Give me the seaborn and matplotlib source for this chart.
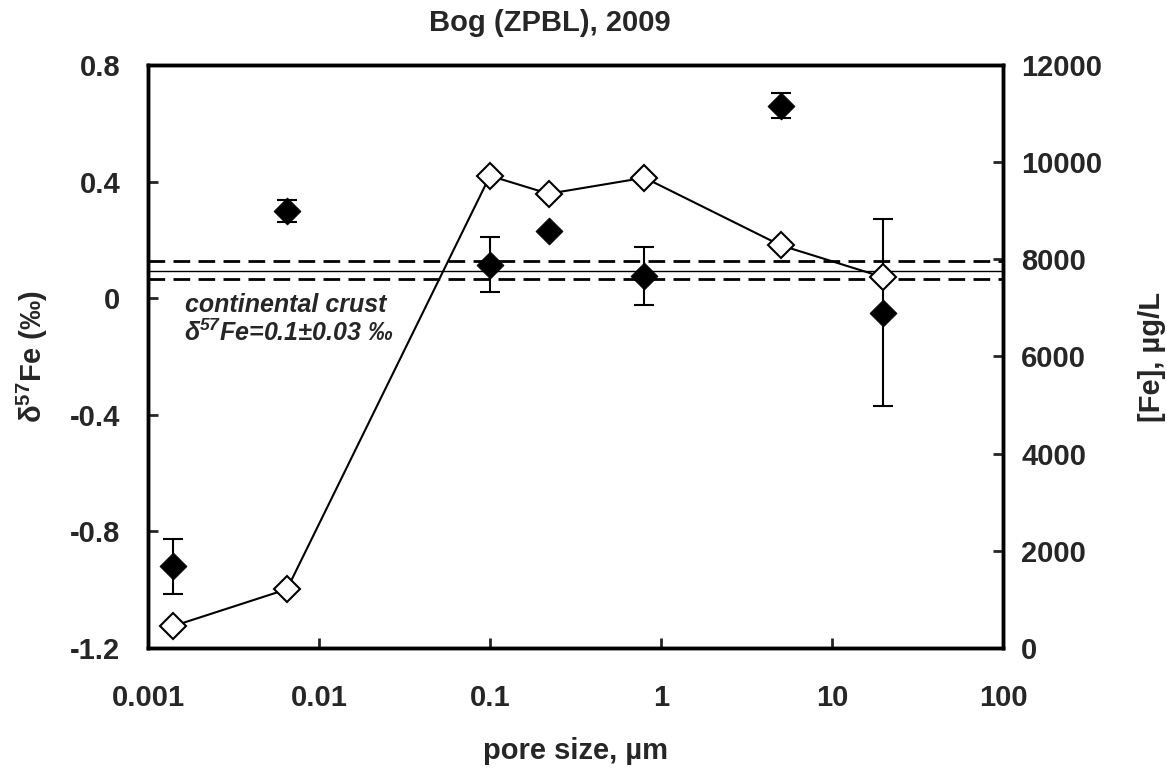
import numpy as np
import pandas as pd
import matplotlib
matplotlib.use('Agg')
import matplotlib.pyplot as plt
import seaborn as sns
from matplotlib.ticker import FixedLocator, FixedFormatter, NullLocator

# ── data ────────────────────────────────────────────────────
pore_size   = [0.0014, 0.0065, 0.1, 0.22, 0.8, 5, 20]          # µm
delta57     = [-0.92, 0.30, 0.115, 0.23, 0.075, 0.66, -0.05]   # ‰
delta57_err = [0.095, 0.037, 0.095, 0.0, 0.10, 0.043, 0.32]
fe_conc     = [450, 1210, 9720, 9350, 9680, 8290, 7630]        # µg/L

crust_mean = 0.092
crust_low, crust_high = 0.067, 0.128

x_ticks  = [0.001, 0.01, 0.1, 1, 10, 100]
x_labels = ['0.001', '0.01', '0.1', '1', '10', '100']
y1_ticks = [-1.2, -0.8, -0.4, 0, 0.4, 0.8]
y1_labels = ['-1.2', '-0.8', '-0.4', '0', '0.4', '0.8']
y2_ticks = [0, 2000, 4000, 6000, 8000, 10000, 12000]

df = pd.DataFrame({'pore': pore_size, 'd57': delta57,
                   'err': delta57_err, 'fe': fe_conc})

# ── style ───────────────────────────────────────────────────
sns.set_style('white')
plt.rcParams['font.family'] = ['Liberation Sans', 'DejaVu Sans']
plt.rcParams['mathtext.default'] = 'regular'
FS = 21

fig = plt.figure(figsize=(11.67, 7.73), dpi=100)
ax = fig.add_axes([148/1167, 1 - 648/773, (1003-148)/1167, (648-65)/773])
ax2 = ax.twinx()

# crust reference band
ax.axhline(crust_mean, color='black', lw=1.0, zorder=1)
ax.axhline(crust_low, color='black', lw=2.0, ls=(0, (6, 3)), zorder=1)
ax.axhline(crust_high, color='black', lw=2.0, ls=(0, (6, 3)), zorder=1)

# δ57Fe with error bars
ax.errorbar(df['pore'], df['d57'], yerr=df['err'], fmt='none',
            ecolor='black', elinewidth=1.5, capsize=7, capthick=1.5, zorder=2)
sns.scatterplot(data=df, x='pore', y='d57', marker='D', s=190,
                color='black', edgecolor='black', linewidth=0.5, ax=ax, zorder=3)

# [Fe] line
sns.lineplot(data=df, x='pore', y='fe', sort=False, estimator=None, ax=ax2,
             color='black', lw=1.5, marker='D', markersize=13,
             markerfacecolor='white', markeredgecolor='black', markeredgewidth=1.5)

# axes setup
ax.set_xscale('log')
ax.set_xlim(0.001, 100)
ax.set_ylim(-1.2, 0.8)
ax2.set_ylim(0, 12000)

ax.xaxis.set_major_locator(FixedLocator(x_ticks))
ax.xaxis.set_major_formatter(FixedFormatter(x_labels))
ax.xaxis.set_minor_locator(NullLocator())
ax.yaxis.set_major_locator(FixedLocator(y1_ticks))
ax.yaxis.set_major_formatter(FixedFormatter(y1_labels))
ax2.yaxis.set_major_locator(FixedLocator(y2_ticks))

for a in (ax, ax2):
    for sp in a.spines.values():
        sp.set_linewidth(2.5)
        sp.set_color('black')
ax.tick_params(axis='x', direction='in', length=7, width=2, pad=26,
               labelsize=FS, bottom=True, top=False)
ax.tick_params(axis='y', direction='in', length=7, width=2, pad=20,
               labelsize=FS, left=True, right=False)
ax2.tick_params(axis='y', direction='in', length=7, width=2, pad=13,
                labelsize=FS, right=True, left=False)
for lab in ax.get_xticklabels() + ax.get_yticklabels() + ax2.get_yticklabels():
    lab.set_fontweight('bold')

ax.set_xlabel('pore size, µm', fontsize=FS, fontweight='bold', labelpad=18)
ax.set_ylabel('δ$^{57}$Fe (‰)', fontsize=FS, fontweight='bold')
ax.yaxis.set_label_coords(-0.115, 0.5)
ax2.set_ylabel('[Fe], µg/L', fontsize=FS, fontweight='bold')
ax2.yaxis.set_label_coords(1.158, 0.5)

fig.text(550/1167, 1 - 23/773, 'Bog (ZPBL), 2009', ha='center', va='center',
         fontsize=FS, fontweight='bold')

ax.text(0.00164, -0.024, 'continental crust',
        fontsize=18, fontweight='bold', style='italic', ha='left', va='center')
ax.text(0.00162, -0.117, 'δ$^{57}$Fe=0.1±0.03 ‰',
        fontsize=18, fontweight='bold', style='italic', ha='left', va='center')

fig.savefig('out.png', dpi=100)
